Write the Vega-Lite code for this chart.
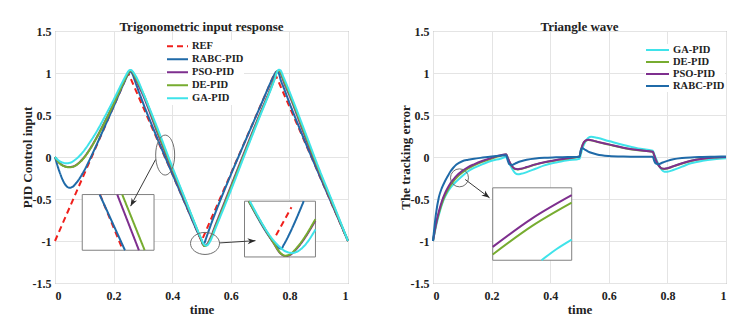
{
"$schema": "https://vega.github.io/schema/vega-lite/v6.json",
"background": "white",
"padding": {"left": 20, "top": 20, "right": 5, "bottom": 2},
"config": {
"view": {"stroke": "#858585", "strokeWidth": 1},
"font": "Liberation Serif",
"axis": {"labelFont": "Liberation Serif", "labelFontWeight": "bold", "labelFontSize": 12, "labelColor": "#222222", "titleFont": "Liberation Serif", "titleFontWeight": "bold", "titleFontSize": 13, "titleColor": "#222222", "gridColor": "#e4e4e4", "domain": false, "ticks": false, "labelPadding": 4},
"axisY": {"titlePadding": -2},
"axisX": {"titlePadding": 2, "labelPadding": 7},
"title": {"font": "Liberation Serif", "fontWeight": "bold", "fontSize": 13, "color": "#222222", "offset": -9},
"legend": {"labelFont": "Liberation Serif", "labelFontWeight": "bold", "labelFontSize": 10.5, "labelColor": "#222222", "symbolType": "stroke", "symbolStrokeWidth": 2, "fillColor": "white", "padding": 0, "labelOffset": 3, "rowPadding": 0}
},
"datasets": {
"ref": [{"t":0,"s":"REF","v":-1},{"t":0.25,"s":"REF","v":1},{"t":0.5,"s":"REF","v":-1},{"t":0.75,"s":"REF","v":1},{"t":1,"s":"REF","v":-1}],
"left": [
{"t":0,"s":"RABC-PID","v":0},{"t":0.01,"s":"RABC-PID","v":-0.12},{"t":0.02,"s":"RABC-PID","v":-0.22},{"t":0.03,"s":"RABC-PID","v":-0.3},{"t":0.04,"s":"RABC-PID","v":-0.35},{"t":0.05,"s":"RABC-PID","v":-0.367},{"t":0.06,"s":"RABC-PID","v":-0.355},{"t":0.07,"s":"RABC-PID","v":-0.32},{"t":0.08,"s":"RABC-PID","v":-0.275},{"t":0.1,"s":"RABC-PID","v":-0.16},{"t":0.12,"s":"RABC-PID","v":-0.02},{"t":0.14,"s":"RABC-PID","v":0.13},{"t":0.17,"s":"RABC-PID","v":0.365},{"t":0.2,"s":"RABC-PID","v":0.6},{"t":0.23,"s":"RABC-PID","v":0.84},{"t":0.245,"s":"RABC-PID","v":0.955},{"t":0.25,"s":"RABC-PID","v":0.99},{"t":0.255,"s":"RABC-PID","v":1.015},{"t":0.26,"s":"RABC-PID","v":1.01},{"t":0.265,"s":"RABC-PID","v":0.985},{"t":0.27,"s":"RABC-PID","v":0.935},{"t":0.28,"s":"RABC-PID","v":0.835},{"t":0.3,"s":"RABC-PID","v":0.648},{"t":0.35,"s":"RABC-PID","v":0.215},{"t":0.4,"s":"RABC-PID","v":-0.196},{"t":0.45,"s":"RABC-PID","v":-0.6},{"t":0.49,"s":"RABC-PID","v":-0.92},{"t":0.5,"s":"RABC-PID","v":-0.99},{"t":0.505,"s":"RABC-PID","v":-1.04},{"t":0.51,"s":"RABC-PID","v":-1.025},{"t":0.515,"s":"RABC-PID","v":-0.975},{"t":0.52,"s":"RABC-PID","v":-0.925},{"t":0.53,"s":"RABC-PID","v":-0.825},{"t":0.55,"s":"RABC-PID","v":-0.64},{"t":0.6,"s":"RABC-PID","v":-0.212},{"t":0.65,"s":"RABC-PID","v":0.195},{"t":0.7,"s":"RABC-PID","v":0.597},{"t":0.74,"s":"RABC-PID","v":0.918},{"t":0.75,"s":"RABC-PID","v":0.99},{"t":0.755,"s":"RABC-PID","v":1.015},{"t":0.76,"s":"RABC-PID","v":1.01},{"t":0.765,"s":"RABC-PID","v":0.985},{"t":0.77,"s":"RABC-PID","v":0.92},{"t":0.78,"s":"RABC-PID","v":0.83},{"t":0.8,"s":"RABC-PID","v":0.645},{"t":0.85,"s":"RABC-PID","v":0.212},{"t":0.9,"s":"RABC-PID","v":-0.198},{"t":0.95,"s":"RABC-PID","v":-0.6},{"t":1,"s":"RABC-PID","v":-1},
{"t":0,"s":"PSO-PID","v":0},{"t":0.01,"s":"PSO-PID","v":-0.05},{"t":0.02,"s":"PSO-PID","v":-0.085},{"t":0.03,"s":"PSO-PID","v":-0.105},{"t":0.04,"s":"PSO-PID","v":-0.117},{"t":0.05,"s":"PSO-PID","v":-0.12},{"t":0.06,"s":"PSO-PID","v":-0.115},{"t":0.07,"s":"PSO-PID","v":-0.1},{"t":0.08,"s":"PSO-PID","v":-0.075},{"t":0.1,"s":"PSO-PID","v":0},{"t":0.12,"s":"PSO-PID","v":0.1},{"t":0.14,"s":"PSO-PID","v":0.22},{"t":0.17,"s":"PSO-PID","v":0.42},{"t":0.2,"s":"PSO-PID","v":0.635},{"t":0.23,"s":"PSO-PID","v":0.86},{"t":0.245,"s":"PSO-PID","v":0.97},{"t":0.25,"s":"PSO-PID","v":1.005},{"t":0.255,"s":"PSO-PID","v":1.025},{"t":0.26,"s":"PSO-PID","v":1.025},{"t":0.265,"s":"PSO-PID","v":1.005},{"t":0.27,"s":"PSO-PID","v":0.97},{"t":0.28,"s":"PSO-PID","v":0.89},{"t":0.3,"s":"PSO-PID","v":0.74},{"t":0.35,"s":"PSO-PID","v":0.285},{"t":0.4,"s":"PSO-PID","v":-0.153},{"t":0.45,"s":"PSO-PID","v":-0.575},{"t":0.49,"s":"PSO-PID","v":-0.915},{"t":0.5,"s":"PSO-PID","v":-0.995},{"t":0.505,"s":"PSO-PID","v":-1.04},{"t":0.51,"s":"PSO-PID","v":-1.06},{"t":0.515,"s":"PSO-PID","v":-1.05},{"t":0.52,"s":"PSO-PID","v":-1.035},{"t":0.53,"s":"PSO-PID","v":-0.965},{"t":0.55,"s":"PSO-PID","v":-0.79},{"t":0.6,"s":"PSO-PID","v":-0.35},{"t":0.65,"s":"PSO-PID","v":0.09},{"t":0.7,"s":"PSO-PID","v":0.52},{"t":0.74,"s":"PSO-PID","v":0.855},{"t":0.75,"s":"PSO-PID","v":0.95},{"t":0.755,"s":"PSO-PID","v":1},{"t":0.76,"s":"PSO-PID","v":1.025},{"t":0.765,"s":"PSO-PID","v":1.025},{"t":0.77,"s":"PSO-PID","v":1},{"t":0.78,"s":"PSO-PID","v":0.9},{"t":0.8,"s":"PSO-PID","v":0.735},{"t":0.85,"s":"PSO-PID","v":0.275},{"t":0.9,"s":"PSO-PID","v":-0.17},{"t":0.95,"s":"PSO-PID","v":-0.59},{"t":1,"s":"PSO-PID","v":-1},
{"t":0,"s":"DE-PID","v":0},{"t":0.01,"s":"DE-PID","v":-0.052},{"t":0.02,"s":"DE-PID","v":-0.088},{"t":0.03,"s":"DE-PID","v":-0.108},{"t":0.04,"s":"DE-PID","v":-0.12},{"t":0.05,"s":"DE-PID","v":-0.123},{"t":0.06,"s":"DE-PID","v":-0.118},{"t":0.07,"s":"DE-PID","v":-0.103},{"t":0.08,"s":"DE-PID","v":-0.078},{"t":0.1,"s":"DE-PID","v":-0.005},{"t":0.12,"s":"DE-PID","v":0.095},{"t":0.14,"s":"DE-PID","v":0.215},{"t":0.17,"s":"DE-PID","v":0.415},{"t":0.2,"s":"DE-PID","v":0.632},{"t":0.23,"s":"DE-PID","v":0.858},{"t":0.245,"s":"DE-PID","v":0.968},{"t":0.25,"s":"DE-PID","v":1.003},{"t":0.255,"s":"DE-PID","v":1.025},{"t":0.26,"s":"DE-PID","v":1.028},{"t":0.265,"s":"DE-PID","v":1.012},{"t":0.27,"s":"DE-PID","v":0.98},{"t":0.28,"s":"DE-PID","v":0.91},{"t":0.3,"s":"DE-PID","v":0.765},{"t":0.35,"s":"DE-PID","v":0.31},{"t":0.4,"s":"DE-PID","v":-0.135},{"t":0.45,"s":"DE-PID","v":-0.56},{"t":0.49,"s":"DE-PID","v":-0.905},{"t":0.5,"s":"DE-PID","v":-0.99},{"t":0.505,"s":"DE-PID","v":-1.035},{"t":0.51,"s":"DE-PID","v":-1.06},{"t":0.515,"s":"DE-PID","v":-1.055},{"t":0.52,"s":"DE-PID","v":-1.045},{"t":0.53,"s":"DE-PID","v":-0.98},{"t":0.55,"s":"DE-PID","v":-0.81},{"t":0.6,"s":"DE-PID","v":-0.37},{"t":0.65,"s":"DE-PID","v":0.07},{"t":0.7,"s":"DE-PID","v":0.505},{"t":0.74,"s":"DE-PID","v":0.845},{"t":0.75,"s":"DE-PID","v":0.94},{"t":0.755,"s":"DE-PID","v":0.995},{"t":0.76,"s":"DE-PID","v":1.025},{"t":0.765,"s":"DE-PID","v":1.03},{"t":0.77,"s":"DE-PID","v":1.01},{"t":0.78,"s":"DE-PID","v":0.92},{"t":0.8,"s":"DE-PID","v":0.755},{"t":0.85,"s":"DE-PID","v":0.3},{"t":0.9,"s":"DE-PID","v":-0.15},{"t":0.95,"s":"DE-PID","v":-0.575},{"t":1,"s":"DE-PID","v":-1},
{"t":0,"s":"GA-PID","v":0},{"t":0.01,"s":"GA-PID","v":-0.035},{"t":0.02,"s":"GA-PID","v":-0.058},{"t":0.03,"s":"GA-PID","v":-0.07},{"t":0.04,"s":"GA-PID","v":-0.075},{"t":0.05,"s":"GA-PID","v":-0.07},{"t":0.06,"s":"GA-PID","v":-0.055},{"t":0.07,"s":"GA-PID","v":-0.03},{"t":0.08,"s":"GA-PID","v":0},{"t":0.1,"s":"GA-PID","v":0.08},{"t":0.12,"s":"GA-PID","v":0.18},{"t":0.14,"s":"GA-PID","v":0.29},{"t":0.17,"s":"GA-PID","v":0.48},{"t":0.2,"s":"GA-PID","v":0.68},{"t":0.23,"s":"GA-PID","v":0.89},{"t":0.245,"s":"GA-PID","v":0.99},{"t":0.25,"s":"GA-PID","v":1.02},{"t":0.255,"s":"GA-PID","v":1.035},{"t":0.26,"s":"GA-PID","v":1.035},{"t":0.265,"s":"GA-PID","v":1.02},{"t":0.27,"s":"GA-PID","v":0.995},{"t":0.28,"s":"GA-PID","v":0.935},{"t":0.3,"s":"GA-PID","v":0.77},{"t":0.35,"s":"GA-PID","v":0.34},{"t":0.4,"s":"GA-PID","v":-0.115},{"t":0.45,"s":"GA-PID","v":-0.55},{"t":0.49,"s":"GA-PID","v":-0.9},{"t":0.5,"s":"GA-PID","v":-0.98},{"t":0.505,"s":"GA-PID","v":-1.02},{"t":0.51,"s":"GA-PID","v":-1.045},{"t":0.515,"s":"GA-PID","v":-1.055},{"t":0.52,"s":"GA-PID","v":-1.05},{"t":0.53,"s":"GA-PID","v":-1},{"t":0.55,"s":"GA-PID","v":-0.83},{"t":0.6,"s":"GA-PID","v":-0.4},{"t":0.65,"s":"GA-PID","v":0.05},{"t":0.7,"s":"GA-PID","v":0.49},{"t":0.74,"s":"GA-PID","v":0.835},{"t":0.75,"s":"GA-PID","v":0.93},{"t":0.755,"s":"GA-PID","v":0.985},{"t":0.76,"s":"GA-PID","v":1.025},{"t":0.765,"s":"GA-PID","v":1.04},{"t":0.77,"s":"GA-PID","v":1.03},{"t":0.78,"s":"GA-PID","v":0.95},{"t":0.8,"s":"GA-PID","v":0.78},{"t":0.85,"s":"GA-PID","v":0.33},{"t":0.9,"s":"GA-PID","v":-0.13},{"t":0.95,"s":"GA-PID","v":-0.56},{"t":1,"s":"GA-PID","v":-1}
],
"right": [
{"t":0,"s":"GA-PID","v":-1},{"t":0.01,"s":"GA-PID","v":-0.83},{"t":0.02,"s":"GA-PID","v":-0.69},{"t":0.03,"s":"GA-PID","v":-0.57},{"t":0.04,"s":"GA-PID","v":-0.48},{"t":0.05,"s":"GA-PID","v":-0.415},{"t":0.06,"s":"GA-PID","v":-0.365},{"t":0.07,"s":"GA-PID","v":-0.325},{"t":0.08,"s":"GA-PID","v":-0.29},{"t":0.1,"s":"GA-PID","v":-0.225},{"t":0.12,"s":"GA-PID","v":-0.17},{"t":0.14,"s":"GA-PID","v":-0.13},{"t":0.17,"s":"GA-PID","v":-0.085},{"t":0.2,"s":"GA-PID","v":-0.045},{"t":0.23,"s":"GA-PID","v":-0.02},{"t":0.25,"s":"GA-PID","v":0},{"t":0.255,"s":"GA-PID","v":-0.03},{"t":0.26,"s":"GA-PID","v":-0.07},{"t":0.27,"s":"GA-PID","v":-0.14},{"t":0.28,"s":"GA-PID","v":-0.19},{"t":0.29,"s":"GA-PID","v":-0.205},{"t":0.3,"s":"GA-PID","v":-0.2},{"t":0.32,"s":"GA-PID","v":-0.18},{"t":0.35,"s":"GA-PID","v":-0.14},{"t":0.38,"s":"GA-PID","v":-0.1},{"t":0.42,"s":"GA-PID","v":-0.065},{"t":0.46,"s":"GA-PID","v":-0.04},{"t":0.5,"s":"GA-PID","v":-0.02},{"t":0.505,"s":"GA-PID","v":0.04},{"t":0.51,"s":"GA-PID","v":0.1},{"t":0.52,"s":"GA-PID","v":0.18},{"t":0.53,"s":"GA-PID","v":0.228},{"t":0.54,"s":"GA-PID","v":0.24},{"t":0.56,"s":"GA-PID","v":0.228},{"t":0.6,"s":"GA-PID","v":0.19},{"t":0.65,"s":"GA-PID","v":0.142},{"t":0.7,"s":"GA-PID","v":0.102},{"t":0.75,"s":"GA-PID","v":0.075},{"t":0.755,"s":"GA-PID","v":0.035},{"t":0.76,"s":"GA-PID","v":-0.01},{"t":0.77,"s":"GA-PID","v":-0.09},{"t":0.78,"s":"GA-PID","v":-0.15},{"t":0.79,"s":"GA-PID","v":-0.175},{"t":0.8,"s":"GA-PID","v":-0.175},{"t":0.82,"s":"GA-PID","v":-0.155},{"t":0.85,"s":"GA-PID","v":-0.115},{"t":0.88,"s":"GA-PID","v":-0.075},{"t":0.92,"s":"GA-PID","v":-0.045},{"t":0.96,"s":"GA-PID","v":-0.027},{"t":1,"s":"GA-PID","v":-0.016},
{"t":0,"s":"DE-PID","v":-1},{"t":0.01,"s":"DE-PID","v":-0.81},{"t":0.02,"s":"DE-PID","v":-0.67},{"t":0.03,"s":"DE-PID","v":-0.555},{"t":0.04,"s":"DE-PID","v":-0.465},{"t":0.05,"s":"DE-PID","v":-0.395},{"t":0.06,"s":"DE-PID","v":-0.335},{"t":0.07,"s":"DE-PID","v":-0.288},{"t":0.08,"s":"DE-PID","v":-0.247},{"t":0.1,"s":"DE-PID","v":-0.185},{"t":0.12,"s":"DE-PID","v":-0.137},{"t":0.14,"s":"DE-PID","v":-0.1},{"t":0.17,"s":"DE-PID","v":-0.055},{"t":0.2,"s":"DE-PID","v":-0.018},{"t":0.23,"s":"DE-PID","v":0.015},{"t":0.25,"s":"DE-PID","v":0.03},{"t":0.255,"s":"DE-PID","v":-0.012},{"t":0.26,"s":"DE-PID","v":-0.053},{"t":0.27,"s":"DE-PID","v":-0.113},{"t":0.28,"s":"DE-PID","v":-0.143},{"t":0.29,"s":"DE-PID","v":-0.148},{"t":0.3,"s":"DE-PID","v":-0.143},{"t":0.32,"s":"DE-PID","v":-0.123},{"t":0.35,"s":"DE-PID","v":-0.09},{"t":0.38,"s":"DE-PID","v":-0.064},{"t":0.42,"s":"DE-PID","v":-0.038},{"t":0.46,"s":"DE-PID","v":-0.017},{"t":0.5,"s":"DE-PID","v":0.006},{"t":0.505,"s":"DE-PID","v":0.078},{"t":0.51,"s":"DE-PID","v":0.138},{"t":0.52,"s":"DE-PID","v":0.193},{"t":0.53,"s":"DE-PID","v":0.203},{"t":0.54,"s":"DE-PID","v":0.198},{"t":0.56,"s":"DE-PID","v":0.18},{"t":0.6,"s":"DE-PID","v":0.148},{"t":0.65,"s":"DE-PID","v":0.108},{"t":0.7,"s":"DE-PID","v":0.08},{"t":0.75,"s":"DE-PID","v":0.061},{"t":0.755,"s":"DE-PID","v":0.018},{"t":0.76,"s":"DE-PID","v":-0.032},{"t":0.77,"s":"DE-PID","v":-0.102},{"t":0.78,"s":"DE-PID","v":-0.137},{"t":0.79,"s":"DE-PID","v":-0.142},{"t":0.8,"s":"DE-PID","v":-0.137},{"t":0.82,"s":"DE-PID","v":-0.112},{"t":0.85,"s":"DE-PID","v":-0.077},{"t":0.88,"s":"DE-PID","v":-0.047},{"t":0.92,"s":"DE-PID","v":-0.022},{"t":0.96,"s":"DE-PID","v":-0.007},{"t":1,"s":"DE-PID","v":-0.001},
{"t":0,"s":"PSO-PID","v":-1},{"t":0.01,"s":"PSO-PID","v":-0.8},{"t":0.02,"s":"PSO-PID","v":-0.65},{"t":0.03,"s":"PSO-PID","v":-0.53},{"t":0.04,"s":"PSO-PID","v":-0.44},{"t":0.05,"s":"PSO-PID","v":-0.37},{"t":0.06,"s":"PSO-PID","v":-0.31},{"t":0.07,"s":"PSO-PID","v":-0.265},{"t":0.08,"s":"PSO-PID","v":-0.225},{"t":0.1,"s":"PSO-PID","v":-0.165},{"t":0.12,"s":"PSO-PID","v":-0.12},{"t":0.14,"s":"PSO-PID","v":-0.087},{"t":0.17,"s":"PSO-PID","v":-0.045},{"t":0.2,"s":"PSO-PID","v":-0.01},{"t":0.23,"s":"PSO-PID","v":0.02},{"t":0.25,"s":"PSO-PID","v":0.032},{"t":0.255,"s":"PSO-PID","v":-0.01},{"t":0.26,"s":"PSO-PID","v":-0.05},{"t":0.27,"s":"PSO-PID","v":-0.11},{"t":0.28,"s":"PSO-PID","v":-0.14},{"t":0.29,"s":"PSO-PID","v":-0.145},{"t":0.3,"s":"PSO-PID","v":-0.14},{"t":0.32,"s":"PSO-PID","v":-0.12},{"t":0.35,"s":"PSO-PID","v":-0.088},{"t":0.38,"s":"PSO-PID","v":-0.062},{"t":0.42,"s":"PSO-PID","v":-0.036},{"t":0.46,"s":"PSO-PID","v":-0.015},{"t":0.5,"s":"PSO-PID","v":0.008},{"t":0.505,"s":"PSO-PID","v":0.08},{"t":0.51,"s":"PSO-PID","v":0.14},{"t":0.52,"s":"PSO-PID","v":0.195},{"t":0.53,"s":"PSO-PID","v":0.205},{"t":0.54,"s":"PSO-PID","v":0.2},{"t":0.56,"s":"PSO-PID","v":0.182},{"t":0.6,"s":"PSO-PID","v":0.15},{"t":0.65,"s":"PSO-PID","v":0.11},{"t":0.7,"s":"PSO-PID","v":0.082},{"t":0.75,"s":"PSO-PID","v":0.063},{"t":0.755,"s":"PSO-PID","v":0.02},{"t":0.76,"s":"PSO-PID","v":-0.03},{"t":0.77,"s":"PSO-PID","v":-0.1},{"t":0.78,"s":"PSO-PID","v":-0.135},{"t":0.79,"s":"PSO-PID","v":-0.14},{"t":0.8,"s":"PSO-PID","v":-0.135},{"t":0.82,"s":"PSO-PID","v":-0.11},{"t":0.85,"s":"PSO-PID","v":-0.075},{"t":0.88,"s":"PSO-PID","v":-0.045},{"t":0.92,"s":"PSO-PID","v":-0.02},{"t":0.96,"s":"PSO-PID","v":-0.006},{"t":1,"s":"PSO-PID","v":0},
{"t":0,"s":"RABC-PID","v":-1},{"t":0.01,"s":"RABC-PID","v":-0.68},{"t":0.02,"s":"RABC-PID","v":-0.48},{"t":0.03,"s":"RABC-PID","v":-0.37},{"t":0.04,"s":"RABC-PID","v":-0.295},{"t":0.05,"s":"RABC-PID","v":-0.23},{"t":0.06,"s":"RABC-PID","v":-0.17},{"t":0.07,"s":"RABC-PID","v":-0.125},{"t":0.08,"s":"RABC-PID","v":-0.09},{"t":0.1,"s":"RABC-PID","v":-0.05},{"t":0.12,"s":"RABC-PID","v":-0.033},{"t":0.14,"s":"RABC-PID","v":-0.02},{"t":0.17,"s":"RABC-PID","v":-0.007},{"t":0.2,"s":"RABC-PID","v":0.005},{"t":0.23,"s":"RABC-PID","v":0.015},{"t":0.25,"s":"RABC-PID","v":0.02},{"t":0.255,"s":"RABC-PID","v":-0.04},{"t":0.26,"s":"RABC-PID","v":-0.085},{"t":0.27,"s":"RABC-PID","v":-0.095},{"t":0.28,"s":"RABC-PID","v":-0.078},{"t":0.29,"s":"RABC-PID","v":-0.062},{"t":0.3,"s":"RABC-PID","v":-0.05},{"t":0.32,"s":"RABC-PID","v":-0.032},{"t":0.35,"s":"RABC-PID","v":-0.017},{"t":0.38,"s":"RABC-PID","v":-0.009},{"t":0.42,"s":"RABC-PID","v":-0.004},{"t":0.46,"s":"RABC-PID","v":0},{"t":0.5,"s":"RABC-PID","v":0.004},{"t":0.505,"s":"RABC-PID","v":0.09},{"t":0.51,"s":"RABC-PID","v":0.105},{"t":0.52,"s":"RABC-PID","v":0.085},{"t":0.53,"s":"RABC-PID","v":0.065},{"t":0.54,"s":"RABC-PID","v":0.05},{"t":0.56,"s":"RABC-PID","v":0.03},{"t":0.6,"s":"RABC-PID","v":0.012},{"t":0.65,"s":"RABC-PID","v":0.005},{"t":0.7,"s":"RABC-PID","v":0.003},{"t":0.75,"s":"RABC-PID","v":0.003},{"t":0.755,"s":"RABC-PID","v":-0.045},{"t":0.76,"s":"RABC-PID","v":-0.075},{"t":0.77,"s":"RABC-PID","v":-0.085},{"t":0.78,"s":"RABC-PID","v":-0.072},{"t":0.79,"s":"RABC-PID","v":-0.058},{"t":0.8,"s":"RABC-PID","v":-0.046},{"t":0.82,"s":"RABC-PID","v":-0.028},{"t":0.85,"s":"RABC-PID","v":-0.013},{"t":0.88,"s":"RABC-PID","v":-0.005},{"t":0.92,"s":"RABC-PID","v":0},{"t":0.96,"s":"RABC-PID","v":0.004},{"t":1,"s":"RABC-PID","v":0.007}
],
"linset": [
{"g":"a1","s":"REF","t":0.1536,"v":-0.447},{"g":"a1","s":"REF","t":0.2272,"v":-1.07},
{"g":"a2","s":"RABC-PID","t":0.1524,"v":-0.447},{"g":"a2","s":"RABC-PID","t":0.2387,"v":-1.11},
{"g":"a3","s":"PSO-PID","t":0.2124,"v":-0.447},{"g":"a3","s":"PSO-PID","t":0.2864,"v":-1.11},
{"g":"a4","s":"DE-PID","t":0.2295,"v":-0.447},{"g":"a4","s":"DE-PID","t":0.306,"v":-1.11},
{"g":"b1","s":"REF","t":0.7545,"v":-0.931},{"g":"b1","s":"REF","t":0.807,"v":-0.597},
{"g":"b2","s":"RABC-PID","t":0.6614,"v":-0.526},{"g":"b2","s":"RABC-PID","t":0.75,"v":-1.03},{"g":"b2","s":"RABC-PID","t":0.765,"v":-1.085},{"g":"b2","s":"RABC-PID","t":0.773,"v":-1.091},{"g":"b2","s":"RABC-PID","t":0.78,"v":-1.05},{"g":"b2","s":"RABC-PID","t":0.8489,"v":-0.526},
{"g":"b3","s":"PSO-PID","t":0.6614,"v":-0.526},{"g":"b3","s":"PSO-PID","t":0.745,"v":-1.02},{"g":"b3","s":"PSO-PID","t":0.77,"v":-1.15},{"g":"b3","s":"PSO-PID","t":0.787,"v":-1.18},{"g":"b3","s":"PSO-PID","t":0.8,"v":-1.17},{"g":"b3","s":"PSO-PID","t":0.83,"v":-1.07},{"g":"b3","s":"PSO-PID","t":0.8889,"v":-0.756},
{"g":"b4","s":"DE-PID","t":0.6614,"v":-0.526},{"g":"b4","s":"DE-PID","t":0.745,"v":-1.015},{"g":"b4","s":"DE-PID","t":0.77,"v":-1.145},{"g":"b4","s":"DE-PID","t":0.786,"v":-1.175},{"g":"b4","s":"DE-PID","t":0.8,"v":-1.163},{"g":"b4","s":"DE-PID","t":0.83,"v":-1.06},{"g":"b4","s":"DE-PID","t":0.8889,"v":-0.74},
{"g":"b5","s":"GA-PID","t":0.665,"v":-0.526},{"g":"b5","s":"GA-PID","t":0.755,"v":-1.03},{"g":"b5","s":"GA-PID","t":0.785,"v":-1.12},{"g":"b5","s":"GA-PID","t":0.809,"v":-1.142},{"g":"b5","s":"GA-PID","t":0.83,"v":-1.12},{"g":"b5","s":"GA-PID","t":0.86,"v":-1.02},{"g":"b5","s":"GA-PID","t":0.8889,"v":-0.863}
],
"rinset": [
{"g":"c3","s":"GA-PID","t":0.3703,"v":-1.229},{"g":"c3","s":"GA-PID","t":0.422,"v":-1.095},{"g":"c3","s":"GA-PID","t":0.4734,"v":-0.983},
{"g":"c2","s":"DE-PID","t":0.2038,"v":-1.16},{"g":"c2","s":"DE-PID","t":0.3386,"v":-0.82},{"g":"c2","s":"DE-PID","t":0.4734,"v":-0.543},
{"g":"c1","s":"PSO-PID","t":0.2038,"v":-1.07},{"g":"c1","s":"PSO-PID","t":0.3386,"v":-0.73},{"g":"c1","s":"PSO-PID","t":0.4734,"v":-0.454}
]
},
"hconcat": [
{
"width": 293, "height": 252,
"title": "Trigonometric input response",
"layer": [
{"data": {"name": "ref"}, "mark": {"type": "line", "strokeWidth": 2}, "encoding": {
"x": {"field": "t", "type": "quantitative", "title": "time", "scale": {"domain": [0, 1], "nice": false}, "axis": {"values": [0, 0.2, 0.4, 0.6, 0.8, 1], "labelExpr": "datum.value + ''"}},
"y": {"field": "v", "type": "quantitative", "title": "PID Control input", "scale": {"domain": [-1.5, 1.5], "nice": false}, "axis": {"values": [-1.5, -1, -0.5, 0, 0.5, 1, 1.5], "labelExpr": "datum.value + ''"}},
"color": {"field": "s", "type": "nominal", "scale": {"domain": ["REF", "RABC-PID", "PSO-PID", "DE-PID", "GA-PID"], "range": ["#f0201c", "#1f6aa8", "#7e2f8e", "#77ac30", "#3fe3ea"]}, "legend": {"title": null, "orient": "none", "legendX": 111, "legendY": 9, "symbolSize": 441, "clipHeight": 12.7}},
"strokeDash": {"field": "s", "type": "nominal", "scale": {"domain": ["REF", "RABC-PID", "PSO-PID", "DE-PID", "GA-PID"], "range": [[6, 4], [1, 0], [1, 0], [1, 0], [1, 0]]}, "legend": {"title": null, "orient": "none", "legendX": 111, "legendY": 9, "symbolSize": 441, "clipHeight": 12.7}}
}},
{"data": {"name": "left"}, "mark": {"type": "line", "strokeWidth": 2, "interpolate": "monotone"}, "encoding": {
"x": {"field": "t", "type": "quantitative", "title": "time"},
"y": {"field": "v", "type": "quantitative", "title": "PID Control input"},
"color": {"field": "s", "type": "nominal"},
"strokeDash": {"field": "s", "type": "nominal"}
}},
{"data": {"values": [{"t": 0.093, "t2": 0.338, "v": -0.447, "v2": -1.11}, {"t": 0.6468, "t2": 0.8889, "v": -0.526, "v2": -1.19}]}, "mark": {"type": "rect", "fill": "white", "stroke": "#808080", "strokeWidth": 1}, "encoding": {
"x": {"field": "t", "type": "quantitative", "title": "time"}, "x2": {"field": "t2"},
"y": {"field": "v", "type": "quantitative", "title": "PID Control input"}, "y2": {"field": "v2"}
}},
{"data": {"name": "linset"}, "mark": {"type": "line", "strokeWidth": 2, "interpolate": "monotone"}, "encoding": {
"x": {"field": "t", "type": "quantitative", "title": "time"},
"y": {"field": "v", "type": "quantitative", "title": "PID Control input"},
"detail": {"field": "g"},
"color": {"field": "s", "type": "nominal"},
"strokeDash": {"field": "s", "type": "nominal"}
}},
{"data": {"values": [{"t": 0.376, "v": 0.023}]}, "mark": {"type": "point", "shape": "M -0.475 0 A 0.475 1 0 1 0 0.475 0 A 0.475 1 0 1 0 -0.475 0 Z", "size": 1600, "filled": false, "stroke": "#6e6e6e", "strokeWidth": 1, "opacity": 1}, "encoding": {
"x": {"field": "t", "type": "quantitative", "title": "time"}, "y": {"field": "v", "type": "quantitative", "title": "PID Control input"}}},
{"data": {"values": [{"t": 0.512, "v": -1.029}]}, "mark": {"type": "point", "shape": "M -1 0 A 1 0.76 0 1 0 1 0 A 1 0.76 0 1 0 -1 0 Z", "size": 841, "filled": false, "stroke": "#6e6e6e", "strokeWidth": 1, "opacity": 1}, "encoding": {
"x": {"field": "t", "type": "quantitative", "title": "time"}, "y": {"field": "v", "type": "quantitative", "title": "PID Control input"}}},
{"data": {"values": [{"t": 0.3433, "v": -0.03, "t2": 0.258, "v2": -0.585}, {"t": 0.5616, "v": -1.023, "t2": 0.6843, "v2": -0.996}]}, "mark": {"type": "rule", "color": "#3a3a3a", "strokeWidth": 1}, "encoding": {
"x": {"field": "t", "type": "quantitative", "title": "time"}, "x2": {"field": "t2"},
"y": {"field": "v", "type": "quantitative", "title": "PID Control input"}, "y2": {"field": "v2"}}},
{"data": {"values": [{"t": 0.258, "v": -0.585}]}, "mark": {"type": "point", "shape": "M 0 0 L -1 -0.38 L -0.7 0 L -1 0.38 Z", "size": 256, "angle": 118, "filled": true, "color": "#2a2a2a", "opacity": 1}, "encoding": {
"x": {"field": "t", "type": "quantitative", "title": "time"}, "y": {"field": "v", "type": "quantitative", "title": "PID Control input"}}},
{"data": {"values": [{"t": 0.6843, "v": -0.996}]}, "mark": {"type": "point", "shape": "M 0 0 L -1 -0.38 L -0.7 0 L -1 0.38 Z", "size": 256, "angle": -4, "filled": true, "color": "#2a2a2a", "opacity": 1}, "encoding": {
"x": {"field": "t", "type": "quantitative", "title": "time"}, "y": {"field": "v", "type": "quantitative", "title": "PID Control input"}}}
]
},
{
"width": 293, "height": 252,
"title": "Triangle wave",
"layer": [
{"data": {"name": "right"}, "mark": {"type": "line", "strokeWidth": 2, "interpolate": "monotone"}, "encoding": {
"x": {"field": "t", "type": "quantitative", "title": "time", "scale": {"domain": [0, 1], "nice": false}, "axis": {"values": [0, 0.2, 0.4, 0.6, 0.8, 1], "labelExpr": "datum.value + ''"}},
"y": {"field": "v", "type": "quantitative", "title": "The tracking error", "scale": {"domain": [-1.5, 1.5], "nice": false}, "axis": {"values": [-1.5, -1, -0.5, 0, 0.5, 1, 1.5], "labelExpr": "datum.value + ''"}},
"color": {"field": "s", "type": "nominal", "scale": {"domain": ["GA-PID", "DE-PID", "PSO-PID", "RABC-PID"], "range": ["#3fe3ea", "#77ac30", "#7e2f8e", "#1f6aa8"]}, "legend": {"title": null, "orient": "none", "legendX": 212, "legendY": 13, "symbolSize": 529, "clipHeight": 11.8}}
}},
{"data": {"values": [{"t": 0.2038, "t2": 0.4734, "v": -0.367, "v2": -1.229}]}, "mark": {"type": "rect", "fill": "white", "stroke": "#808080", "strokeWidth": 1}, "encoding": {
"x": {"field": "t", "type": "quantitative", "title": "time"}, "x2": {"field": "t2"},
"y": {"field": "v", "type": "quantitative", "title": "The tracking error"}, "y2": {"field": "v2"}
}},
{"data": {"name": "rinset"}, "mark": {"type": "line", "strokeWidth": 2, "interpolate": "monotone"}, "encoding": {
"x": {"field": "t", "type": "quantitative", "title": "time"},
"y": {"field": "v", "type": "quantitative", "title": "The tracking error"},
"detail": {"field": "g"},
"color": {"field": "s", "type": "nominal"}
}},
{"data": {"values": [{"t": 0.0904, "v": -0.248}]}, "mark": {"type": "point", "shape": "circle", "size": 324, "filled": false, "stroke": "#6e6e6e", "strokeWidth": 1, "opacity": 1}, "encoding": {
"x": {"field": "t", "type": "quantitative", "title": "time"}, "y": {"field": "v", "type": "quantitative", "title": "The tracking error"}}},
{"data": {"values": [{"t": 0.11, "v": -0.268, "t2": 0.193, "v2": -0.486}]}, "mark": {"type": "rule", "color": "#3a3a3a", "strokeWidth": 1}, "encoding": {
"x": {"field": "t", "type": "quantitative", "title": "time"}, "x2": {"field": "t2"},
"y": {"field": "v", "type": "quantitative", "title": "The tracking error"}, "y2": {"field": "v2"}}},
{"data": {"values": [{"t": 0.193, "v": -0.486}]}, "mark": {"type": "point", "shape": "M 0 0 L -1 -0.38 L -0.7 0 L -1 0.38 Z", "size": 256, "angle": 37, "filled": true, "color": "#2a2a2a", "opacity": 1}, "encoding": {
"x": {"field": "t", "type": "quantitative", "title": "time"}, "y": {"field": "v", "type": "quantitative", "title": "The tracking error"}}}
]
}
],
"spacing": 45,
"resolve": {"scale": {"color": "independent", "strokeDash": "independent", "x": "independent", "y": "independent"}, "legend": {"color": "independent", "strokeDash": "independent"}}
}
